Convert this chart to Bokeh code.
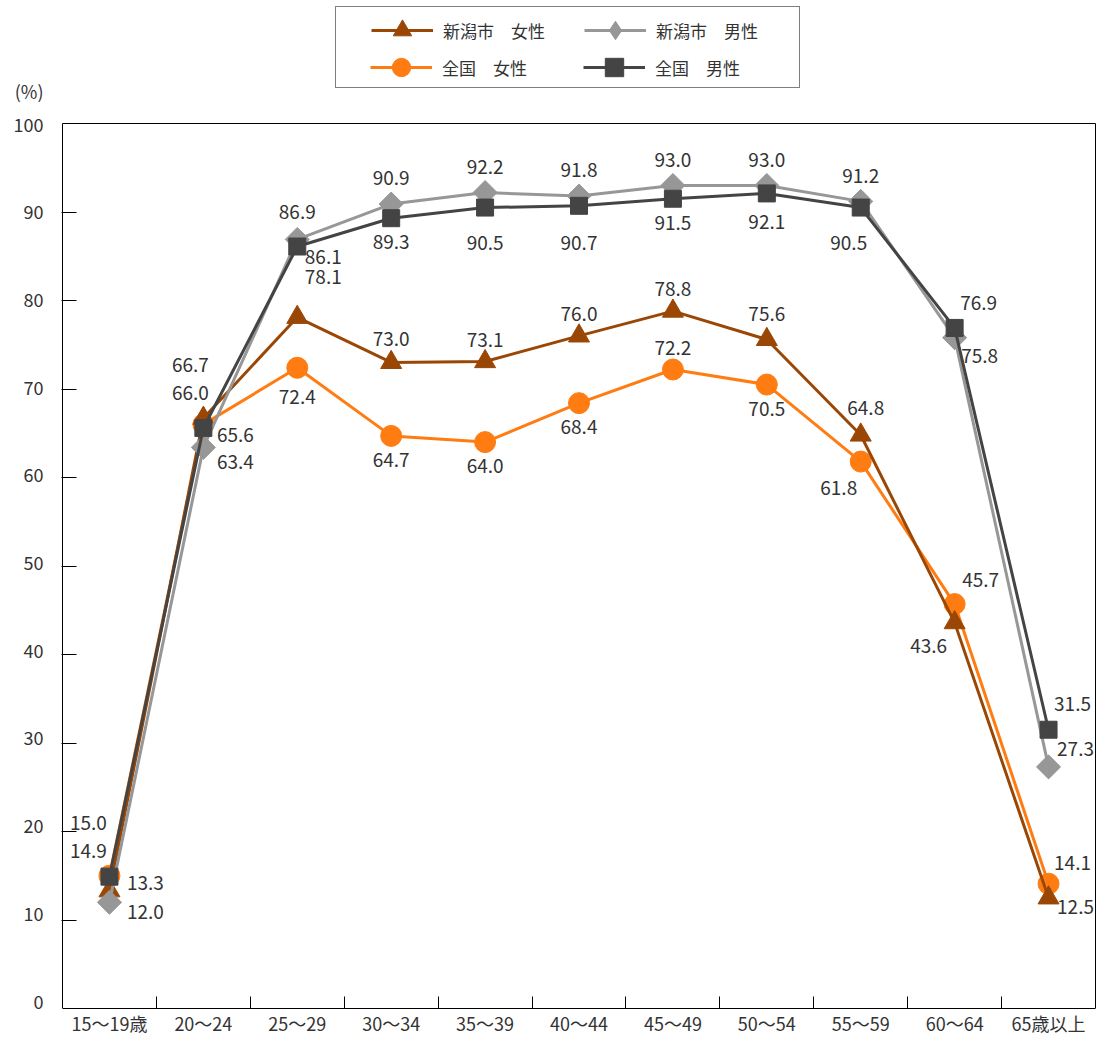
import math
from bokeh.plotting import figure
from bokeh.models import (ColumnDataSource, FixedTicker, LabelSet, Legend, LegendItem,
                          Range1d)
from bokeh.core.properties import value
from bokeh.embed import file_html
from bokeh.resources import INLINE

FONT = "Noto Sans CJK JP"
TXT = "#333333"

categories = ["15～19歳", "20～24", "25～29", "30～34", "35～39", "40～44",
              "45～49", "50～54", "55～59", "60～64", "65歳以上"]

niigata_female = [13.3, 66.7, 78.1, 73.0, 73.1, 76.0, 78.8, 75.6, 64.8, 43.6, 12.5]
niigata_male = [12.0, 63.4, 86.9, 90.9, 92.2, 91.8, 93.0, 93.0, 91.2, 75.8, 27.3]
japan_female = [15.0, 66.0, 72.4, 64.7, 64.0, 68.4, 72.2, 70.5, 61.8, 45.7, 14.1]
japan_male = [14.9, 65.6, 86.1, 89.3, 90.5, 90.7, 91.5, 92.1, 90.5, 76.9, 31.5]

y_ticks = list(range(0, 101, 10))
unit_label = "(%)"

# label offsets in screen px (dx right, dy up)
off_nf = [(36, 8), (-13, 53), (26, 40), (0, 23), (0, 22), (0, 22), (0, 22), (0, 25),
          (5, 27), (-26, -23), (27, -9)]
off_jf = [(-21, 53), (-13, 31), (0, -29), (0, -24), (0, -24), (0, -24), (0, 22), (0, -24),
          (-22, -26), (26, 24), (24, 21)]
off_nm = [(36, -10), (32, -15), (0, 27), (0, 26), (0, 26), (0, 26), (0, 25), (0, 25),
          (0, 25), (25, -18), (27, 18)]
off_jm = [(-21, 26), (32, -7), (26, -10), (0, -24), (0, -35), (0, -37), (0, -24), (0, -29),
          (-12, -35), (24, 25), (24, 26)]

# layout (pixels)
W, H = 1110, 1039
LEFT = 61          # frame left
BOTTOM_BORDER = 31
PX_PER_Y = 8.85
PX_PER_CAT = 1033 / 11
frame_h = H - BOTTOM_BORDER
frame_w = W - LEFT
x0 = -0.5 - 1 / PX_PER_CAT
x_range = Range1d(x0, x0 + frame_w / PX_PER_CAT)
y_range = Range1d(0, frame_h / PX_PER_Y)

p = figure(width=W, height=H, x_range=x_range, y_range=y_range,
           output_backend="svg", toolbar_location=None,
           min_border_left=LEFT, min_border_right=0, min_border_top=0,
           min_border_bottom=BOTTOM_BORDER)
p.xgrid.visible = False
p.ygrid.visible = False
p.outline_line_color = None
p.background_fill_color = "white"
p.border_fill_color = "white"

n = len(categories)
xs = list(range(n))
x_lo, x_hi = -0.5, n - 0.5
y_lo, y_hi = y_ticks[0], y_ticks[-1]

# x axis
p.xaxis.bounds = (x_lo, x_hi)
p.xaxis.ticker = FixedTicker(ticks=xs, minor_ticks=[i + 0.5 for i in range(n - 1)])
p.xaxis.major_label_overrides = {i: c for i, c in enumerate(categories)}
p.xaxis.major_tick_in = 0
p.xaxis.major_tick_out = 0
p.xaxis.minor_tick_in = 12
p.xaxis.minor_tick_out = 0
p.xaxis.minor_tick_line_color = "black"
p.xaxis.axis_line_color = "black"
p.xaxis.major_label_standoff = 1
p.xaxis.major_label_text_font = FONT
p.xaxis.major_label_text_font_size = "18px"
p.xaxis.major_label_text_color = TXT

# y axis: labels via major ticks (no marks), marks via minor ticks.
# the reference's labels sit slightly higher than their tick marks near the bottom
def label_pos(v):
    return 0.9 + v * (100 - 0.9) / 100

unit_pos = (frame_h - 90) / PX_PER_Y
lab_ticks = [label_pos(v) for v in y_ticks]
overrides = {lp: str(v) for lp, v in zip(lab_ticks, y_ticks)}
overrides[unit_pos] = unit_label
p.yaxis.ticker = FixedTicker(ticks=lab_ticks + [unit_pos], minor_ticks=y_ticks[1:-1])
p.yaxis.major_label_overrides = overrides
p.yaxis.major_tick_in = 0
p.yaxis.major_tick_out = 0
p.yaxis.minor_tick_in = 15
p.yaxis.minor_tick_out = 0
p.yaxis.minor_tick_line_color = "black"
p.yaxis.axis_line_color = None
p.yaxis.major_label_standoff = 18
p.yaxis.major_label_text_font = FONT
p.yaxis.major_label_text_font_size = "18px"
p.yaxis.major_label_text_color = TXT

# plot box (left, top, right edges; bottom is the x axis line)
p.segment(x0=[x_lo, x_lo, x_hi], y0=[y_lo, y_hi, y_lo],
          x1=[x_lo, x_hi, x_hi], y1=[y_hi, y_hi, y_hi],
          line_color="black", line_width=1)

specs = [
    # name, values, color, marker, size, angle, legend marker, offsets
    ("全国　女性", japan_female, "#FF7C12", "circle", 21, 0, None, off_jf),
    ("新潟市　女性", niigata_female, "#9A4706", "triangle", 21, 0, None, off_nf),
    ("新潟市　男性", niigata_male, "#979797", "square", 17, math.pi / 4, "diamond", off_nm),
    ("全国　男性", japan_male, "#444444", "square", 17, 0, None, off_jm),
]

items = {}
sources = {}
for name, vals, color, marker, size, angle, leg_marker, offs in specs:
    src = ColumnDataSource(dict(x=xs, y=vals, text=[f"{v:.1f}" for v in vals],
                                dx=[o[0] for o in offs], dy=[o[1] for o in offs]))
    sources[name] = src
    ln = p.line("x", "y", source=src, line_color=color, line_width=3)
    rends = [ln]
    if leg_marker:
        # smaller diamond hidden under the rotated square; used as the legend symbol
        rends.append(p.scatter("x", "y", source=src, marker=leg_marker, size=size,
                               fill_color=color, line_color=color))
    sc = p.scatter("x", "y", source=src, marker=marker, size=size, angle=angle,
                   fill_color=color, line_color=color)
    if not leg_marker:
        rends.append(sc)
    items[name] = rends

for name, *_ in specs:
    ls = LabelSet(x="x", y="y", text="text", source=sources[name],
                  x_offset="dx", y_offset="dy",
                  text_align="center", text_baseline="middle",
                  text_font=value(FONT), text_font_size="19px", text_color=TXT)
    p.add_layout(ls)

leg_common = dict(
    orientation="horizontal", label_text_font=FONT, label_text_font_size="17px",
    label_text_color=TXT, glyph_width=62, glyph_height=46, label_height=46,
    label_width=141, spacing=0, margin=0, label_standoff=10,
)
# row 1 (also draws the legend box)
legend1 = Legend(
    items=[LegendItem(label=nm, renderers=items[nm]) for nm in ["新潟市　女性", "新潟市　男性"]],
    location=(335 - LEFT, frame_h - 88),
    border_line_color="black", border_line_width=1, background_fill_color="white",
    background_fill_alpha=1,
    padding=dict(left=35, right=2, top=0, bottom=34), **leg_common,
)
# row 2 (transparent, drawn over the box of row 1)
legend2 = Legend(
    items=[LegendItem(label=nm, renderers=items[nm]) for nm in ["全国　女性", "全国　男性"]],
    location=(335 - LEFT, frame_h - 90),
    border_line_color="black", border_line_alpha=0, background_fill_alpha=0,
    padding=dict(left=35, right=2, top=0, bottom=0), **leg_common,
)
p.add_layout(legend1, "center")
p.add_layout(legend2, "center")

open("out.html", "w").write(file_html(p, INLINE))
